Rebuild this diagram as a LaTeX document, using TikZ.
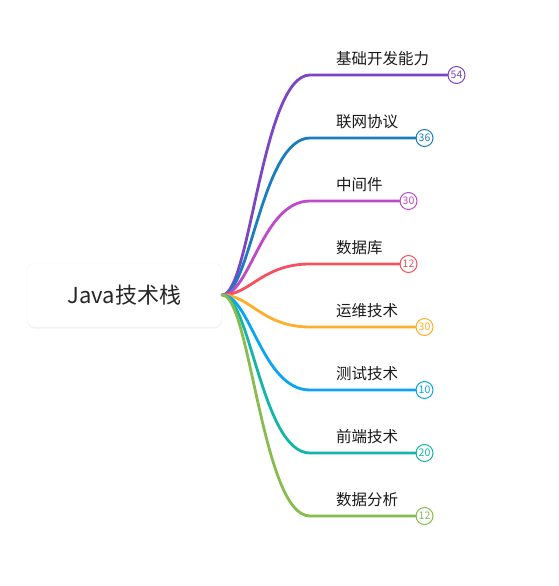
\documentclass[tikz,border=0pt]{standalone}
\usepackage{fontspec}
\setmainfont{Noto Sans CJK SC}
\usepackage{tikz}
\usetikzlibrary{positioning,shadows}

\definecolor{cjichu}{HTML}{7B45C6}
\definecolor{clianwang}{HTML}{1A7DC0}
\definecolor{czhongjian}{HTML}{BD4ACB}
\definecolor{cshuju}{HTML}{F5515F}
\definecolor{cyunwei}{HTML}{FDAE2A}
\definecolor{cceshi}{HTML}{0BA5EF}
\definecolor{cqianduan}{HTML}{12B5A8}
\definecolor{cfenxi}{HTML}{88BC4F}

\begin{document}
\begin{tikzpicture}[x=1pt,y=-1pt,line cap=round,branch/.style={line width=2.8pt}]
  \tikzstyle{root}=[rectangle,rounded corners=8pt,fill=white,draw=black!4,
    minimum width=195pt,minimum height=64pt,
    drop shadow={shadow xshift=0pt,shadow yshift=-1.5pt,opacity=0.1},
    font=\fontsize{22}{26}\selectfont,text=black!85]
  \tikzstyle{lab}=[anchor=base west,inner sep=0pt,font=\fontsize{15.5}{18}\selectfont,text=black!90]
  \tikzstyle{num}=[circle,fill=white,line width=1pt,minimum size=17pt,inner sep=0pt,
    font=\fontsize{10.5}{12}\selectfont]

  \useasboundingbox (0,0) rectangle (559,586);

  \node[root] (J) at (124.5,295) {Java技术栈};

  \coordinate (s1) at (310,75);
  \coordinate (s2) at (310,138);
  \coordinate (s3) at (310,201);
  \coordinate (s4) at (310,264);
  \coordinate (s5) at (310,327);
  \coordinate (s6) at (310,390);
  \coordinate (s7) at (310,453);
  \coordinate (s8) at (310,516);

  \node[num,draw=cjichu,text=cjichu] (n1) at (456.5,75) {54};
  \node[num,draw=clianwang,text=clianwang] (n2) at (424.5,138) {36};
  \node[num,draw=czhongjian,text=czhongjian] (n3) at (408.5,201) {30};
  \node[num,draw=cshuju,text=cshuju] (n4) at (408.5,264) {12};
  \node[num,draw=cyunwei,text=cyunwei] (n5) at (424.5,327) {30};
  \node[num,draw=cceshi,text=cceshi] (n6) at (424.5,390) {10};
  \node[num,draw=cqianduan,text=cqianduan] (n7) at (424.5,453) {20};
  \node[num,draw=cfenxi,text=cfenxi] (n8) at (424.5,516) {12};

  \node[lab] (t1) at (336,64) {基础开发能力};
  \node[lab] (t2) at (336,127) {联网协议};
  \node[lab] (t3) at (336,190) {中间件};
  \node[lab] (t4) at (336,253) {数据库};
  \node[lab] (t5) at (336,316) {运维技术};
  \node[lab] (t6) at (336,379) {测试技术};
  \node[lab] (t7) at (336,442) {前端技术};
  \node[lab] (t8) at (336,505) {数据分析};

  \draw[branch,cjichu] (J.east) .. controls +(28,0) and +(-48,0) .. (s1) -- (n1);
  \draw[branch,clianwang] (J.east) .. controls +(28,0) and +(-48,0) .. (s2) -- (n2);
  \draw[branch,czhongjian] (J.east) .. controls +(28,0) and +(-48,0) .. (s3) -- (n3);
  \draw[branch,cshuju] (J.east) .. controls +(28,0) and +(-48,0) .. (s4) -- (n4);
  \draw[branch,cyunwei] (J.east) .. controls +(28,0) and +(-48,0) .. (s5) -- (n5);
  \draw[branch,cceshi] (J.east) .. controls +(28,0) and +(-48,0) .. (s6) -- (n6);
  \draw[branch,cqianduan] (J.east) .. controls +(28,0) and +(-48,0) .. (s7) -- (n7);
  \draw[branch,cfenxi] (J.east) .. controls +(28,0) and +(-48,0) .. (s8) -- (n8);
\end{tikzpicture}
\end{document}
